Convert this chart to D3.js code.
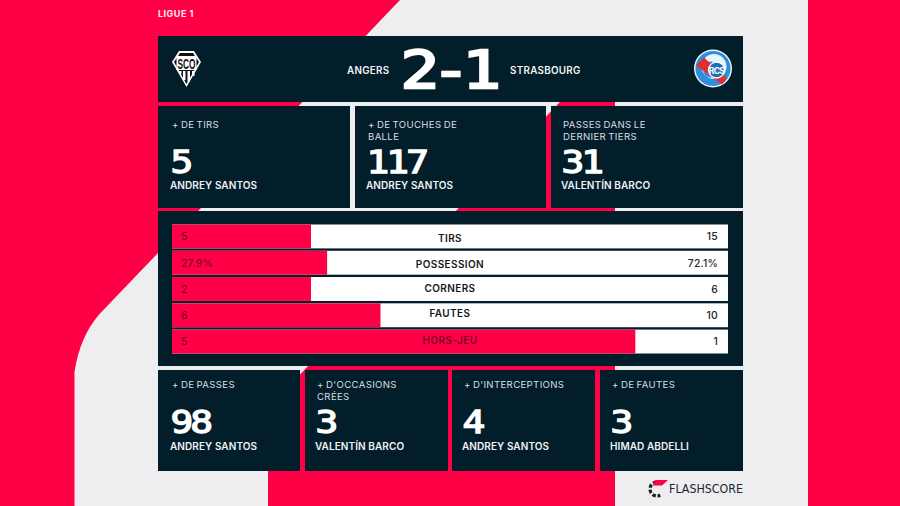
<!DOCTYPE html>
<html><head><meta charset="utf-8">
<script src="https://cdn.jsdelivr.net/npm/d3@7"></script>
<style>html,body{margin:0;padding:0;background:#eeeef0;overflow:hidden}svg{display:block}</style>
</head><body><svg id="c" width="900" height="506"></svg>
<script>
// ---- data ----
const competition = "LIGUE 1";
const homeTeam = "ANGERS", awayTeam = "STRASBOURG", scoreText = "2-1";
const statLabels = ["TIRS","POSSESSION","CORNERS","FAUTES","HORS-JEU"];
const homeValues = [5,27.9,2,6,5];
const awayValues = [15,72.1,6,10,1];
const valueSuffix = ["","%","","",""];
const topTitles = [["+ DE TIRS"],["+ DE TOUCHES DE","BALLE"],["PASSES DANS LE","DERNIER TIERS"]];
const topValues = ["5","117","31"];
const topPlayers = ["ANDREY SANTOS","ANDREY SANTOS","VALENTÍN BARCO"];
const bottomTitles = [["+ DE PASSES"],["+ D'OCCASIONS","CRÉES"],["+ D'INTERCEPTIONS"],["+ DE FAUTES"]];
const bottomValues = ["98","3","4","3"];
const bottomPlayers = ["ANDREY SANTOS","VALENTÍN BARCO","ANDREY SANTOS","HIMAD ABDELLI"];

// ---- style ----
const RED="#ff0046", NAVY="#021e2a", GREY="#eeeef0", UI="Inter, Roboto, sans-serif", NUM="'DejaVu Sans Mono', monospace";
const svg=d3.select("#c");

// background
svg.append("rect").attr("width",900).attr("height",506).attr("fill",GREY);
svg.append("path").attr("fill",RED).attr("d","M0,0L400,0L100,313.6Q80,336 74.5,372L74.5,506L0,506Z");
svg.append("rect").attr("x",808).attr("y",0).attr("width",92).attr("height",506).attr("fill",RED);
svg.append("path").attr("fill",RED).attr("d","M615,60L600,60L290,385Q268,410 268,440L268,506L615,506Z");

function txt(g,x,y,s,o={}){
  const t=g.append("text").attr("x",x).attr("y",y).text(s)
    .attr("font-family",o.family||UI).attr("font-size",o.size||10)
    .attr("font-weight",o.weight||500).attr("fill",o.fill||"#fff")
    .attr("letter-spacing",o.ls==null?0.6:o.ls).attr("text-anchor",o.anchor||"start");
  if(o.ws!=null)t.attr("word-spacing",o.ws);
  if(o.len)t.attr("textLength",o.len).attr("lengthAdjust","spacingAndGlyphs");
  return t;
}
function num(x,y,s,size,sx,ls,sw){
  return svg.append("text").attr("transform",`translate(${x},${y}) scale(${sx},1)`).text(s)
    .attr("font-family",NUM).attr("font-size",size).attr("font-weight",400)
    .attr("letter-spacing",ls).attr("fill","#fff").attr("stroke","#fff").attr("stroke-width",sw)
    .attr("stroke-linejoin","miter");
}
txt(svg,158,16.5,competition,{size:9,weight:700,ls:0.5,fill:"#ffe9ee"});

// header
const panel=(x0,y0,x1,y1)=>svg.append("rect").attr("x",x0).attr("y",y0).attr("width",x1-x0).attr("height",y1-y0).attr("fill",NAVY);
panel(158,36,743,102);
txt(svg,347,73.5,homeTeam,{size:9.8,weight:600,ls:0.3,fill:"#f2f4f5"});
txt(svg,510,73.5,awayTeam,{size:9.8,weight:600,ls:0.3,fill:"#f2f4f5"});
num(400.5,88,scoreText,52,1.24,-6.4,2.4);

// SCO badge
const sco=svg.append("g");
sco.append("path").attr("fill","#fff").attr("d","M179,51L194,51L201,62L186.5,87L172,62Z");
sco.append("path").attr("fill","#111").attr("d","M180,53L193,53L199,62L186.5,84L174,62Z");
sco.append("rect").attr("x",176.5).attr("y",56).attr("width",20).attr("height",14).attr("fill","#fff");
txt(sco,177.5,69,"SCO",{size:15,weight:700,fill:"#111",ls:0,len:18,family:"'Liberation Sans Narrow','Liberation Sans',sans-serif"});
[[179,71,2.5,3],[183,71,2.5,9],[187.5,71,2.5,11],[192,71,2.5,5]].forEach(d=>sco.append("rect").attr("x",d[0]).attr("y",d[1]).attr("width",d[2]).attr("height",d[3]).attr("fill","#fff"));

// RCS badge
const rcs=svg.append("g").attr("transform","translate(713,68.5)");
rcs.append("circle").attr("r",19).attr("fill","#f3f8fc");
rcs.append("circle").attr("r",17.6).attr("fill","#2f8fdc");
rcs.append("circle").attr("r",12.5).attr("cx",1).attr("cy",-2).attr("fill","#e9f3fa");
rcs.append("circle").attr("r",8).attr("cx",-2).attr("cy",1).attr("fill","#2f8fdc");
rcs.append("path").attr("d","M-17,-3L-9,-11L14,10L9,16Z").attr("fill","#e0312f");
rcs.append("circle").attr("r",8).attr("cx",3.5).attr("cy",1.5).attr("fill","#1d70b8").attr("stroke","#fff").attr("stroke-width",1.3);
txt(rcs,3.5,5,"RCS",{size:8.5,weight:700,fill:"#fff",anchor:"middle",ls:-0.7});

// stat cards
function card(x0,x1,y0,y1,tx,title,val,player,offs){
  panel(x0,y0,x1,y1);
  title.forEach((l,i)=>txt(svg,tx+14,y0+offs.t+i*12,l,{size:9.6,weight:400,ls:0.35,ws:-0.8,fill:"#d9dfe2"}));
  num(tx+12.5,y0+offs.v,val,31.5,1.2,-2.4,1.3);
  txt(svg,tx+12,y0+offs.p,player,{size:10,weight:600,ls:0.08,fill:"#f0f2f3"});
}
const topEdges=[[158,350],[355,546],[551,743]], topText=[158,354,549];
topEdges.forEach((e,i)=>card(e[0],e[1],106,208,topText[i],topTitles[i],topValues[i],topPlayers[i],{t:22,v:67,p:83}));
const botEdges=[[158,300],[305,448],[452,595],[600,743]], botText=[158,303,450,598];
botEdges.forEach((e,i)=>card(e[0],e[1],370,471,botText[i],bottomTitles[i],bottomValues[i],bottomPlayers[i],{t:18,v:63,p:80}));

// stats panel
panel(158,211,743,366);
const x=d3.scaleLinear().domain([0,1]).range([172,728]);
const y=d3.scaleBand().domain(statLabels).range([224.5,353.5]).paddingInner(0.09);
const share=i=>homeValues[i]/(homeValues[i]+awayValues[i]);
const rows=svg.append("g");
rows.selectAll("rect.bg").data(statLabels).join("rect").attr("class","bg")
  .attr("x",x(0)).attr("width",x(1)-x(0)).attr("y",d=>y(d)).attr("height",y.bandwidth()).attr("fill","#fff");
rows.selectAll("rect.bar").data(statLabels).join("rect").attr("class","bar")
  .attr("x",x(0)).attr("width",(d,i)=>x(share(i))-x(0)).attr("y",d=>y(d)).attr("height",y.bandwidth()).attr("fill",RED);
const labelShift=[5.5,5,3,2,2], leftShift=[3.5,4,3.5,3.5,3.5];
statLabels.forEach((d,i)=>{
  const cy=y(d)+y.bandwidth()/2;
  const overRed=x(share(i))>450;
  txt(rows,450,cy+labelShift[i],d,{size:10,weight:600,ls:0.4,anchor:"middle",fill:overRed?"#7d0028":"#14181c"});
  txt(rows,181,cy+leftShift[i],homeValues[i]+valueSuffix[i],{size:10.4,weight:500,ls:0.2,fill:"#7d0030"});
  txt(rows,718,cy+leftShift[i],awayValues[i]+valueSuffix[i],{size:10.4,weight:500,ls:0.2,anchor:"end",fill:"#20262b"});
});

// flashscore mark
const fs=svg.append("g").attr("transform","translate(657,489)");
fs.append("circle").attr("r",7).attr("fill","none").attr("stroke","#1a2024").attr("stroke-width",3.2).attr("stroke-dasharray","3.5 2").attr("transform","rotate(100)");
fs.append("path").attr("fill",GREY).attr("d","M0,-2L14,-12L14,8L4,8Z");
fs.append("path").attr("fill",RED).attr("d","M-2,-9L11,-9L5,-3.5L-4,-3.5Z");
txt(svg,669,492.5,"FLASHSCORE",{family:"'DejaVu Sans',sans-serif",size:12,weight:500,ls:0,len:74,fill:"#1a2630"});
</script></body></html>
